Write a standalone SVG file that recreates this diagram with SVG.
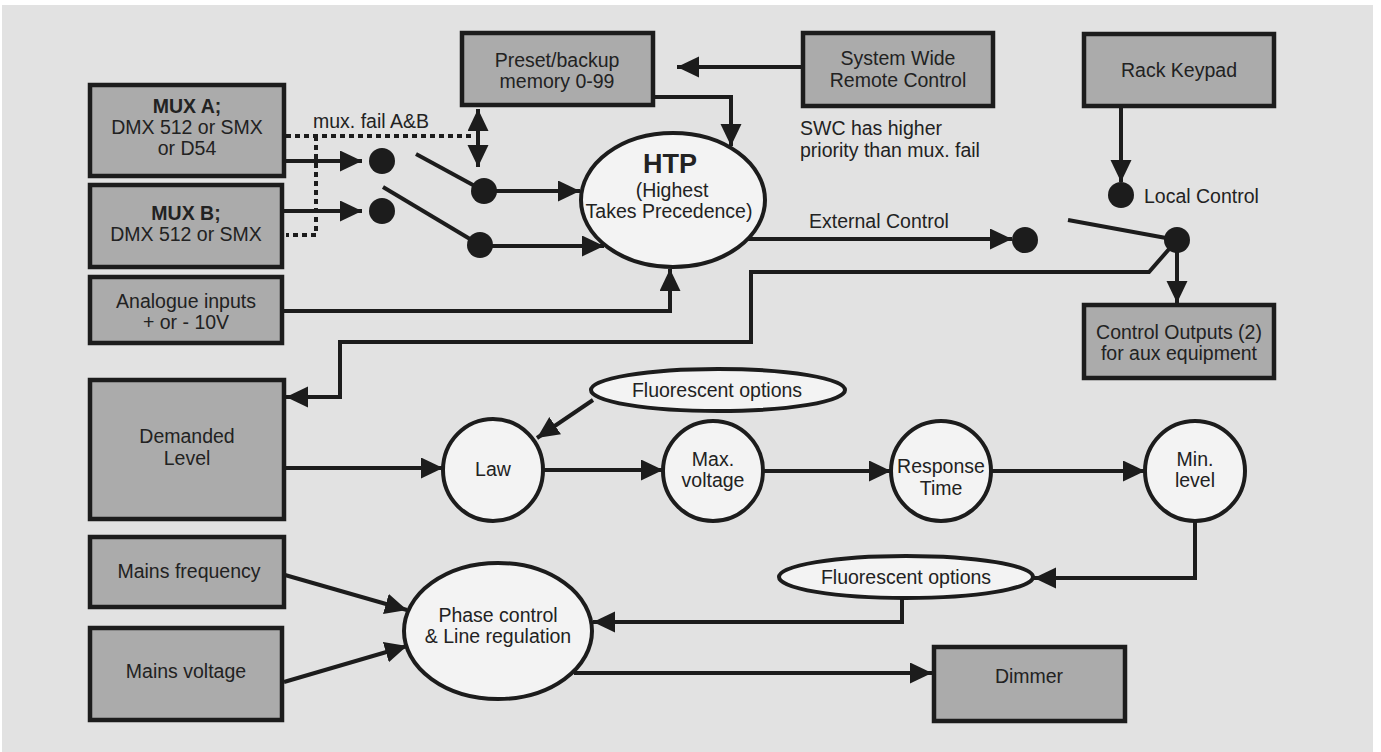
<svg xmlns="http://www.w3.org/2000/svg" width="1381" height="752" viewBox="0 0 1381 752">
<style>
.box{fill:#ababab;stroke:#1c1c1c;stroke-width:4.5}
.ell{fill:#f3f3f3;stroke:#1c1c1c;stroke-width:4}
.dot{fill:#1c1c1c}
.t{font-family:"Liberation Sans",Arial,sans-serif;font-size:19.5px;fill:#222;text-anchor:middle}
.tl{font-family:"Liberation Sans",Arial,sans-serif;font-size:19.5px;fill:#222;text-anchor:start}
.b{font-weight:bold}
.c{fill:none;stroke:#1c1c1c;stroke-width:4}
.a{marker-end:url(#ah)}
.dash{fill:none;stroke:#1c1c1c;stroke-width:4;stroke-dasharray:5 4}
</style>
<defs>
<marker id="ah" markerUnits="userSpaceOnUse" markerWidth="24" markerHeight="22" refX="22" refY="10.5" orient="auto-start-reverse">
<path d="M0,0 L22,10.5 L0,21 z" fill="#1c1c1c"/>
</marker>
</defs>
<rect x="0" y="0" width="1381" height="752" fill="#ffffff"/>
<rect x="2" y="5" width="1371" height="747" fill="#e2e2e2"/>

<g id="connectors">
<path class="dash" d="M286,136 H474 M316,136 V235 H286"/>
<path class="c a" d="M286,161 H362"/>
<path class="c a" d="M284,211 H362"/>
<path class="c" d="M416,154 L484,191"/>
<path class="c" d="M383,187 L480,245"/>
<path class="c a" d="M484,191 H580"/>
<path class="c a" d="M480,246 H604"/>
<path class="c" d="M478,109 V167" marker-start="url(#ah)" marker-end="url(#ah)"/>
<path class="c a" d="M655,97 H731 V146"/>
<path class="c a" d="M801,67 H677"/>
<path class="c a" d="M284,311 H670 V269"/>
<path class="c a" d="M748,239 H1012"/>
<path class="c a" d="M1177,240 L1149,272 H751 V342 H340 V397 H286"/>
<path class="c a" d="M1121,108 V182"/>
<path class="c" d="M1068,220 L1177,240"/>
<path class="c a" d="M1177,240 V303"/>
<path class="c a" d="M284,468 H443"/>
<path class="c a" d="M593,400 L537,438"/>
<path class="c a" d="M543,470 H663"/>
<path class="c a" d="M763,471 H891"/>
<path class="c a" d="M992,471 H1145"/>
<path class="c a" d="M1195,522 V578 H1034"/>
<path class="c a" d="M902,598 V622 H593"/>
<path class="c a" d="M285,575 L407,610"/>
<path class="c a" d="M284,682 L407,646"/>
<path class="c a" d="M574,673 H932"/>
</g>

<g id="dots">
<circle class="dot" cx="382" cy="161" r="13"/>
<circle class="dot" cx="382" cy="211" r="13"/>
<circle class="dot" cx="484" cy="191" r="13"/>
<circle class="dot" cx="480" cy="245" r="13"/>
<circle class="dot" cx="1025" cy="240" r="13"/>
<circle class="dot" cx="1121" cy="195" r="13"/>
<circle class="dot" cx="1177" cy="240" r="13"/>
</g>

<g id="muxA">
<rect class="box" x="90" y="85" width="194" height="91"/>
<text class="t b" x="187" y="113">MUX A;</text>
<text class="t" x="187" y="134">DMX 512 or SMX</text>
<text class="t" x="187" y="155">or D54</text>
</g>
<g id="muxB">
<rect class="box" x="90" y="185" width="192" height="82"/>
<text class="t b" x="186" y="220">MUX B;</text>
<text class="t" x="186" y="241">DMX 512 or SMX</text>
</g>
<g id="analogue">
<rect class="box" x="90" y="277" width="192" height="66"/>
<text class="t" x="186" y="308">Analogue inputs</text>
<text class="t" x="186" y="329">+ or - 10V</text>
</g>
<g id="preset">
<rect class="box" x="462" y="33" width="191" height="72"/>
<text class="t" x="557" y="67">Preset/backup</text>
<text class="t" x="557" y="88">memory 0-99</text>
</g>
<g id="swrc">
<rect class="box" x="803" y="33" width="190" height="73"/>
<text class="t" x="898" y="65">System Wide</text>
<text class="t" x="898" y="87">Remote Control</text>
</g>
<g id="rack">
<rect class="box" x="1084" y="34" width="190" height="72"/>
<text class="t" x="1179" y="77">Rack Keypad</text>
</g>
<g id="ctrlout">
<rect class="box" x="1084" y="305" width="190" height="73"/>
<text class="t" x="1179" y="339">Control Outputs (2)</text>
<text class="t" x="1179" y="360">for aux equipment</text>
</g>
<g id="htp">
<ellipse class="ell" cx="673" cy="200" rx="92" ry="67"/>
<text class="t b" x="670" y="173" style="font-size:27px">HTP</text>
<text class="t" x="672" y="197">(Highest</text>
<text class="t" x="669" y="218">Takes Precedence)</text>
</g>
<g id="labels">
<text class="tl" x="313" y="128">mux. fail A&amp;B</text>
<text class="tl" x="800" y="135">SWC has higher</text>
<text class="tl" x="800" y="157">priority than mux. fail</text>
<text class="tl" x="809" y="228">External Control</text>
<text class="tl" x="1144" y="203">Local Control</text>
</g>
<g id="demanded">
<rect class="box" x="90" y="380" width="194" height="139"/>
<text class="t" x="187" y="443">Demanded</text>
<text class="t" x="187" y="465">Level</text>
</g>
<g id="mainsfreq">
<rect class="box" x="90" y="537" width="194" height="70"/>
<text class="t" x="189" y="578">Mains frequency</text>
</g>
<g id="mainsvolt">
<rect class="box" x="90" y="628" width="192" height="92"/>
<text class="t" x="186" y="678">Mains voltage</text>
</g>
<g id="fluor1">
<ellipse class="ell" cx="718" cy="390" rx="127" ry="21"/>
<text class="t" x="717" y="397">Fluorescent options</text>
</g>
<g id="law">
<ellipse class="ell" cx="493" cy="470" rx="50" ry="51"/>
<text class="t" x="493" y="476">Law</text>
</g>
<g id="maxv">
<circle class="ell" cx="713" cy="471" r="50"/>
<text class="t" x="713" y="466">Max.</text>
<text class="t" x="713" y="487">voltage</text>
</g>
<g id="resp">
<circle class="ell" cx="941" cy="471" r="50"/>
<text class="t" x="941" y="473">Response</text>
<text class="t" x="941" y="495">Time</text>
</g>
<g id="minl">
<circle class="ell" cx="1195" cy="471" r="50"/>
<text class="t" x="1195" y="466">Min.</text>
<text class="t" x="1195" y="487">level</text>
</g>
<g id="fluor2">
<ellipse class="ell" cx="906" cy="577" rx="127" ry="21"/>
<text class="t" x="906" y="584">Fluorescent options</text>
</g>
<g id="phase">
<ellipse class="ell" cx="498" cy="631" rx="94" ry="68"/>
<text class="t" x="498" y="622">Phase control</text>
<text class="t" x="498" y="643">&amp; Line regulation</text>
</g>
<g id="dimmer">
<rect class="box" x="934" y="647" width="191" height="74"/>
<text class="t" x="1029" y="683">Dimmer</text>
</g>
</svg>
